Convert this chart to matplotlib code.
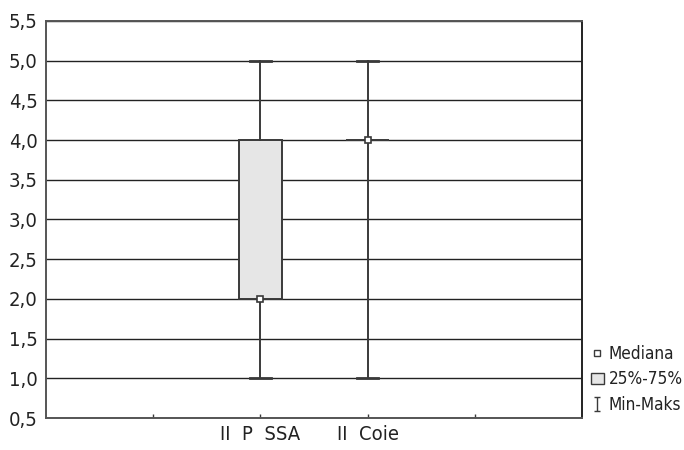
import matplotlib
matplotlib.use("Agg")
import matplotlib.pyplot as plt
from matplotlib.lines import Line2D
from matplotlib.patches import Patch
from matplotlib.path import Path
from matplotlib.ticker import FuncFormatter, MultipleLocator

plt.rcParams['font.family'] = ['DejaVu Sans']
plt.rcParams['font.stretch'] = 'condensed'

# dane
categories = ["II  P  SSA", "II  Coie"]
positions = [2, 3]
minimum = [1.0, 1.0]
q1 = [2.0, 4.0]
median = [2.0, 4.0]
q3 = [4.0, 4.0]
maximum = [5.0, 5.0]

stats = []
for i in range(len(categories)):
    stats.append({"med": median[i], "q1": q1[i], "q3": q3[i],
                  "whislo": minimum[i], "whishi": maximum[i], "fliers": []})

fig = plt.figure(figsize=(6.84, 4.5), dpi=100)
ax = fig.add_axes([46 / 684, 1 - 418 / 450, 536 / 684, 397 / 450])

edge = "#3a3a3a"
ax.bxp(stats, positions=positions, widths=0.4, capwidths=0.2, patch_artist=True,
       showfliers=False,
       boxprops=dict(facecolor="#e6e6e6", edgecolor=edge, linewidth=1.4),
       whiskerprops=dict(color=edge, linewidth=1.4),
       capprops=dict(color=edge, linewidth=2.0),
       medianprops=dict(linestyle="none"))
ax.plot(positions, median, linestyle="none", marker="s", markersize=5,
        markerfacecolor="white", markeredgecolor=edge, markeredgewidth=1.2, zorder=5)

ax.set_xlim(0, 5)
ax.set_ylim(0.5, 5.5)
ax.yaxis.set_major_locator(MultipleLocator(0.5))
ax.yaxis.set_major_formatter(FuncFormatter(lambda v, p: f"{v:.1f}".replace(".", ",")))
ax.set_xticks([1, 2, 3, 4])
ax.set_xticklabels(["", categories[0], categories[1], ""])
ax.tick_params(axis="y", length=0, labelsize=14.5, pad=6, labelcolor="#222222")
ax.tick_params(axis="x", direction="in", length=3, width=1, colors=edge, labelsize=14.5,
               labelcolor="#222222", pad=5)
ax.grid(axis="y", color="#222222", linewidth=1)
ax.set_axisbelow(True)
for s in ax.spines.values():
    s.set_color("#555555")
    s.set_linewidth(1.4)
ax.spines["right"].set_color("#222222")

# legenda
minmax = Path([(-0.5, -1), (0.5, -1), (0, -1), (0, 1), (-0.5, 1), (0.5, 1)],
              [Path.MOVETO, Path.LINETO, Path.MOVETO, Path.LINETO, Path.MOVETO, Path.LINETO])
handles = [
    Line2D([], [], linestyle="none", marker="s", markersize=4, markerfacecolor="white",
           markeredgecolor=edge, markeredgewidth=1),
    Patch(facecolor="#e6e6e6", edgecolor=edge, linewidth=1),
    Line2D([], [], linestyle="none", marker=minmax, markersize=10, markerfacecolor="none",
           markeredgecolor=edge, markeredgewidth=1),
]
fig.legend(handles, ["Mediana", "25%-75%", "Min-Maks"], loc="lower left",
           bbox_to_anchor=(584 / 684, 29 / 450), frameon=False, fontsize=12.3,
           handlelength=0.75, handletextpad=0.3, labelspacing=0.45, borderpad=0.2,
           borderaxespad=0.2, labelcolor="#222222")

fig.savefig("out.png", dpi=100)
